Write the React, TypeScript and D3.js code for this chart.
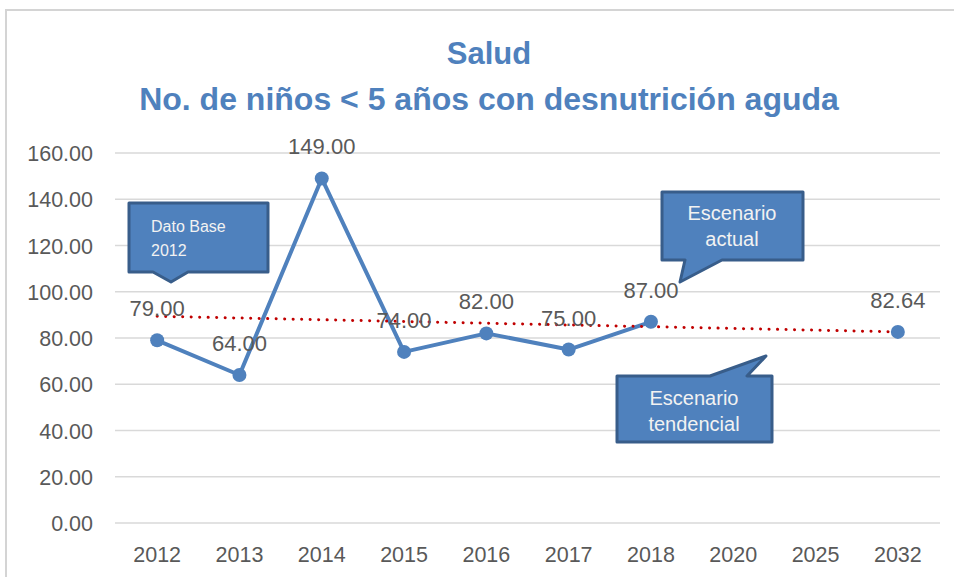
import React from "react";
import * as d3 from "d3";

const categories = ["2012", "2013", "2014", "2015", "2016", "2017", "2018", "2020", "2025", "2032"];
const actualYears = ["2012", "2013", "2014", "2015", "2016", "2017", "2018"];
const actualValues = [79, 64, 149, 74, 82, 75, 87];
const projectionYears = ["2032"];
const projectionValues = [82.64];
const trendYears = ["2012", "2032"];
const trendValues = [89.39, 82.64];
const yTicks = [0, 20, 40, 60, 80, 100, 120, 140, 160];
const titleLines = ["Salud", "No. de niños < 5 años con desnutrición aguda"];

const W = 954;
const H = 577;
const BLUE = "#4F81BD";
const DARK = "#385D8A";
const GRAY = "#595959";
const FONT = "'Liberation Sans', Arial, sans-serif";

export default function App() {
  const x = d3.scaleBand<string>().domain(categories).range([116, 939]).paddingInner(0).paddingOuter(0);
  const cx = (c: string) => (x(c) as number) + x.bandwidth() / 2;
  const y = d3.scaleLinear().domain([0, 160]).range([523, 153]);

  const actualPts = actualYears.map((c, i) => ({ c, v: actualValues[i] }));
  const projPts = projectionYears.map((c, i) => ({ c, v: projectionValues[i] }));
  const trendPts = trendYears.map((c, i) => ({ c, v: trendValues[i] }));
  const line = d3.line<{ c: string; v: number }>().x((d) => cx(d.c)).y((d) => y(d.v));

  const allLabels = [...actualPts, ...projPts];

  const callouts = [
    {
      path: "M129,203 L268,203 L268,272 L188,272 L171,282 L153,272 L129,272 Z",
      lines: ["Dato Base", "2012"],
      tx: 151,
      ty: [232, 256],
      anchor: "start",
      size: 16,
    },
    {
      path: "M662,192 L803,192 L803,260 L722,260 L680,282 L685,260 L662,260 Z",
      lines: ["Escenario", "actual"],
      tx: 732,
      ty: [220, 246],
      anchor: "middle",
      size: 20,
    },
    {
      path: "M617,376 L710,376 L766,356 L747,376 L772,376 L772,442 L617,442 Z",
      lines: ["Escenario", "tendencial"],
      tx: 694,
      ty: [405, 431],
      anchor: "middle",
      size: 20,
    },
  ];

  return (
    <svg width={W} height={H} style={{ position: "absolute", left: 0, top: 0, background: "#fff" }}>
      <rect x={0} y={0} width={W} height={H} fill="#fff" />
      <path d={`M6,${H} L6,10 L${W},10`} fill="none" stroke="#d4d4d4" strokeWidth={2} />

      {titleLines.map((t, i) => (
        <text key={t} x={489} y={i === 0 ? 64 : 110} textAnchor="middle" fontFamily={FONT} fontWeight="bold"
          fontSize={i === 0 ? 31 : 32} fill={BLUE}>
          {t}
        </text>
      ))}

      {yTicks.map((t) => (
        <g key={t}>
          <line x1={115} x2={940} y1={y(t)} y2={y(t)} stroke="#d9d9d9" strokeWidth={1.3} />
          <text x={93} y={y(t) + 8} textAnchor="end" fontFamily={FONT} fontSize={21.5} fill={GRAY}>
            {t.toFixed(2)}
          </text>
        </g>
      ))}

      {categories.map((c) => (
        <text key={c} x={cx(c)} y={562} textAnchor="middle" fontFamily={FONT} fontSize={21.5} fill={GRAY}>
          {c}
        </text>
      ))}

      <path d={line(actualPts) || ""} fill="none" stroke={BLUE} strokeWidth={4} strokeLinejoin="round" />
      <path d={line(trendPts) || ""} fill="none" stroke="#C00000" strokeWidth={3} strokeDasharray="0.1 8.4"
        strokeLinecap="round" />
      {allLabels.map((d) => (
        <circle key={"m" + d.c} cx={cx(d.c)} cy={y(d.v)} r={7} fill={BLUE} />
      ))}
      {allLabels.map((d) => (
        <text key={"l" + d.c} x={cx(d.c)} y={y(d.v) - 24} textAnchor="middle" fontFamily={FONT} fontSize={22} fill={GRAY}>
          {d.v.toFixed(2)}
        </text>
      ))}

      {callouts.map((co, i) => (
        <g key={i}>
          <path d={co.path} fill={BLUE} stroke={DARK} strokeWidth={3} strokeLinejoin="round" />
          {co.lines.map((l, j) => (
            <text key={j} x={co.tx} y={co.ty[j]} textAnchor={co.anchor as any} fontFamily={FONT} fontSize={co.size}
              fill="#F2F2F2">
              {l}
            </text>
          ))}
        </g>
      ))}
    </svg>
  );
}
